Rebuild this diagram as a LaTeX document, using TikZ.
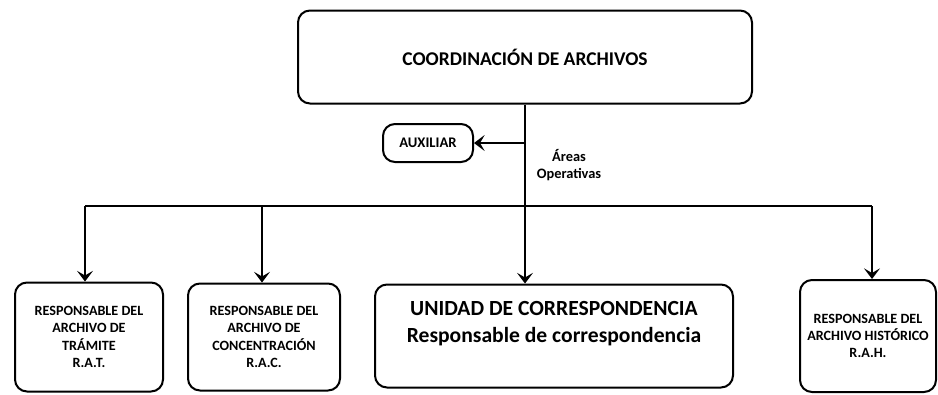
\documentclass[tikz,border=0pt]{standalone}
\usepackage{fontspec}
\setmainfont{Carlito}
\usetikzlibrary{positioning,arrows.meta}

\begin{document}
\begin{tikzpicture}[x=0.75pt,y=-0.75pt,
	box/.style={draw,line width=1.5pt,rounded corners=9pt,align=center,font=\bfseries},
	small/.style={font=\bfseries\fontsize{10.6}{12.9}\selectfont},
	conn/.style={line width=1.1pt},
	arr/.style={conn,-{Stealth[length=8pt,width=12pt,inset=3.5pt]}}]
		
		\useasboundingbox (0,0) rectangle (938,394);
		
		\node[box,minimum width=340.5pt,minimum height=69.75pt,font=\bfseries\fontsize{14.6}{17}\selectfont] (top) at (525,57) {COORDINACIÓN DE ARCHIVOS};
		
		\node[box,minimum width=67.5pt,minimum height=28.5pt,font=\bfseries\fontsize{11}{12}\selectfont] (aux) at (428,143) {AUXILIAR};
		
		\node[align=center,font=\bfseries\fontsize{10.8}{13}\selectfont] (areas) at (569,165) {Áreas\\Operativas};
		
		\node[box,small,minimum width=111pt,minimum height=81.75pt] (rat) at (89,337) {RESPONSABLE DEL\\ARCHIVO DE\\TRÁMITE\\R.A.T.};
		
		\node[box,small,minimum width=114pt,minimum height=80.25pt] (rac) at (264,337) {RESPONSABLE DEL\\ARCHIVO DE\\CONCENTRACIÓN\\R.A.C.};
		
		\node[box,minimum width=268.5pt,minimum height=77.25pt,text depth=21pt,font=\bfseries\fontsize{16.2}{20}\selectfont] (unidad) at (554,336) {UNIDAD DE CORRESPONDENCIA\\Responsable de correspondencia};
		
		\node[box,small,minimum width=102pt,minimum height=84pt] (rah) at (868,336) {RESPONSABLE DEL\\ARCHIVO HISTÓRICO\\R.A.H.};
		
		% bus
		\coordinate (bl) at (85,206);
		\coordinate (bm) at (262,206);
		\coordinate (br) at (872,206);
		
		\draw[conn] (bl)--(br);
		\draw[arr] (bl)--(bl |- rat.north);
		\draw[arr] (bm)--(bm |- rac.north);
		\draw[arr] (br)--(br |- rah.north);
		\draw[arr] (top.south)--(top.south |- unidad.north);
		\draw[arr] (top.south |- aux.east)--(aux.east);
		
	\end{tikzpicture}
\end{document}
